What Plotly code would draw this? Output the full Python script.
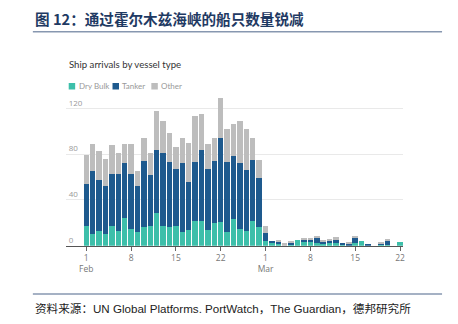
import pandas as pd
import plotly.graph_objects as go

# ---- data ----
dates = pd.date_range("2026-02-01", "2026-03-22", freq="D")
series_names = ["Dry Bulk", "Tanker", "Other"]
dry_bulk = [17, 10, 13, 10, 17, 13, 24, 15, 12, 16, 17, 29, 17, 16, 17, 12, 14, 22, 22, 14,
            20, 21, 12, 23, 15, 13, 22, 16,
            4, 2, 2, 0, 1, 5, 3, 3, 2, 2, 2, 2, 1, 0, 2, 4, 0, 0, 1, 1, 0, 3]
tanker = [37, 55, 44, 42, 46, 50, 48, 48, 40, 58, 45, 55, 64, 57, 50, 60, 42, 51, 62, 53,
          54, 73, 61, 55, 57, 53, 53, 43,
          7, 2, 1, 0, 1, 0, 2, 2, 5, 1, 2, 3, 1, 2, 5, 0, 1, 0, 1, 3, 0, 0]
other = [25, 24, 26, 24, 25, 18, 17, 26, 13, 20, 19, 34, 28, 25, 19, 22, 34, 40, 31, 22,
         20, 35, 29, 28, 37, 36, 19, 16,
         6, 0, 1, 2, 2, 0, 2, 1, 1, 1, 1, 3, 0, 1, 1, 0, 0, 0, 1, 2, 0, 0]
y_ticks = [0, 40, 80, 120]
x_tick_dates = ["2026-02-01", "2026-02-08", "2026-02-15", "2026-02-22",
                "2026-03-01", "2026-03-08", "2026-03-15", "2026-03-22"]
x_tick_text = ["1<br>Feb", "8", "15", "22", "1<br>Mar", "8", "15", "22"]
colors = ["#3dbfaa", "#1e5a8e", "#bdbdbd"]

title_text = "图 12：通过霍尔木兹海峡的船只数量锐减"
source_text = "资料来源：UN Global Platforms. PortWatch，The Guardian，德邦研究所"
subtitle_text = "Ship arrivals by vessel type"

W, H = 458, 324
def px(x):
    return x / W
def py(y):
    return 1 - y / H

fig = go.Figure()
for name, vals, col in zip(series_names, [dry_bulk, tanker, other], colors):
    fig.add_trace(go.Bar(x=dates, y=vals, name=name, marker_color=col,
                         marker_line_width=0, showlegend=False))

x0 = pd.Timestamp("2026-02-01") - pd.Timedelta(hours=77)
x1 = pd.Timestamp("2026-03-22") + pd.Timedelta(hours=12)

y_top = 140
fig.update_layout(
    width=W, height=H,
    margin=dict(l=0, r=0, t=0, b=0),
    paper_bgcolor="white", plot_bgcolor="white",
    barmode="stack", bargap=0.15,
    font=dict(family="Lato, Open Sans, sans-serif", color="#999999", size=8),
    xaxis=dict(
        domain=[px(66), px(405)],
        range=[x0, x1],
        tickvals=x_tick_dates, ticktext=x_tick_text,
        ticks="outside", ticklen=4, tickcolor="#666666",
        showline=True, linecolor="#555555", linewidth=1.2,
        showgrid=False, zeroline=False,
        tickfont=dict(family="Open Sans", size=8.5, color="#777777"),
    ),
    yaxis=dict(
        domain=[py(245.7), py(245.7 - y_top * 1.145)],
        range=[0, y_top],
        tickvals=y_ticks,
        ticklabelposition="inside top",
        ticks="", showline=False, zeroline=False,
        showgrid=True, gridcolor="#e9e9e9", gridwidth=1,
        tickfont=dict(family="Open Sans", size=8, color="#999999"),
    ),
)

annotations = [
    dict(x=px(33), y=py(18), text="<b>" + title_text + "</b>", xanchor="left", yanchor="middle",
         font=dict(family="Noto Sans CJK SC", size=14.6, color="#1f3a63")),
    dict(x=px(33), y=py(308), text=source_text, xanchor="left", yanchor="middle",
         font=dict(family="Liberation Sans, Noto Sans CJK SC", size=11.6, color="#222222")),
    dict(x=px(67), y=py(64), text=subtitle_text, xanchor="left", yanchor="middle",
         font=dict(family="Lato", size=9.6, color="#333333")),
]
shapes = [
    dict(type="line", xref="paper", yref="paper", x0=px(33), x1=px(444), y0=py(31.7), y1=py(31.7),
         line=dict(color="#8797b0", width=1.5)),
    dict(type="line", xref="paper", yref="paper", x0=px(33), x1=px(444), y0=py(294), y1=py(294),
         line=dict(color="#8797b0", width=1.5)),
]
legend_x = [69, 113, 152]
for name, col, lx in zip(series_names, colors, legend_x):
    shapes.append(dict(type="rect", xref="paper", yref="paper", x0=px(lx), x1=px(lx + 6.5),
                       y0=py(89.5), y1=py(83), fillcolor=col, line=dict(width=0)))
    annotations.append(dict(x=px(lx + 8), y=py(86), text=name, xanchor="left", yanchor="middle",
                            font=dict(family="Lato", size=8, color="#999999")))
for a in annotations:
    a.update(xref="paper", yref="paper", showarrow=False)
fig.update_layout(annotations=annotations, shapes=shapes)

fig.write_html("out.html")
